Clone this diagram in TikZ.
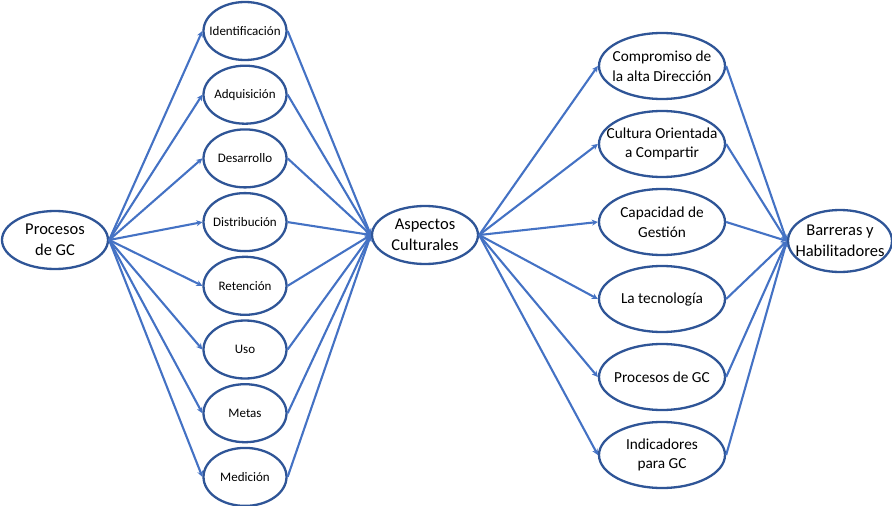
\documentclass[tikz,border=0pt]{standalone}
\usepackage{fontspec}
\setmainfont{Carlito}
\usetikzlibrary{arrows.meta,shapes.geometric}
\definecolor{edgeblue}{HTML}{2F5597}
\definecolor{linkblue}{HTML}{4472C4}
\newcommand\bigfont{\fontsize{16.5}{20.5}\selectfont}
\newcommand\midfont{\fontsize{13}{15}\selectfont}
\newcommand\rightfont{\fontsize{15.3}{19.5}\selectfont}
\begin{document}
\begin{tikzpicture}[x=1pt,y=-1pt,
  oval/.style={ellipse,draw=edgeblue,line width=2.3pt,fill=white,inner sep=0pt},
  bigoval/.style={oval,minimum width=106pt,minimum height=58pt},
  midoval/.style={oval,minimum width=83pt,minimum height=58pt},
  rightoval/.style={oval,minimum width=126pt,minimum height=66pt},
  link/.style={draw=linkblue,line width=2.1pt,-{Stealth[length=6pt,width=6pt]}}]
\useasboundingbox (0,0) rectangle (892,506);
% central and end nodes
\node[bigoval,label={[align=center,font=\bigfont]center:Procesos\\de GC}] (pgc) at (55,240) {};
\node[bigoval,label={[align=center,font=\bigfont]center:Aspectos\\Culturales}] (ac) at (425,235) {};
\node[bigoval,minimum width=104pt,minimum height=62pt,label={[align=center,font=\bigfont]center:Barreras y\\Habilitadores}] (bh) at (840,241) {};
% knowledge management processes
\foreach \n/\t [count=\i from 0] in {id/Identificación,ad/Adquisición,de/Desarrollo,di/Distribución,re/Retención,us/Uso,me/Metas,md/Medición}
  \node[midoval,label={[font=\midfont]center:\t}] (\n) at (245,31+63.7*\i) {};
% cultural aspects
\node[rightoval,label={[align=center,font=\rightfont]center:Compromiso de\\la alta Dirección}] (r1) at (662,66) {};
\node[rightoval,label={[align=center,font=\rightfont]center:Cultura Orientada\\a Compartir}] (r2) at (662,144) {};
\node[rightoval,label={[align=center,font=\rightfont]center:Capacidad de\\Gestión}] (r3) at (662,222) {};
\node[rightoval,label={[align=center,font=\rightfont]center:La tecnología}] (r4) at (662,299) {};
\node[rightoval,label={[align=center,font=\rightfont]center:Procesos de GC}] (r5) at (662,377) {};
\node[rightoval,label={[align=center,font=\rightfont]center:Indicadores\\para GC}] (r6) at (662,455) {};
% connectors
\foreach \n in {id,ad,de,di,re,us,me,md}{
  \draw[link] (pgc.east) -- (\n.west);
  \draw[link] (\n.east) -- (ac.west);
}
\foreach \n in {r1,r2,r3,r4,r5,r6}{
  \draw[link] (ac.east) -- (\n.west);
  \draw[link] (\n.east) -- (bh.west);
}
\end{tikzpicture}
\end{document}
